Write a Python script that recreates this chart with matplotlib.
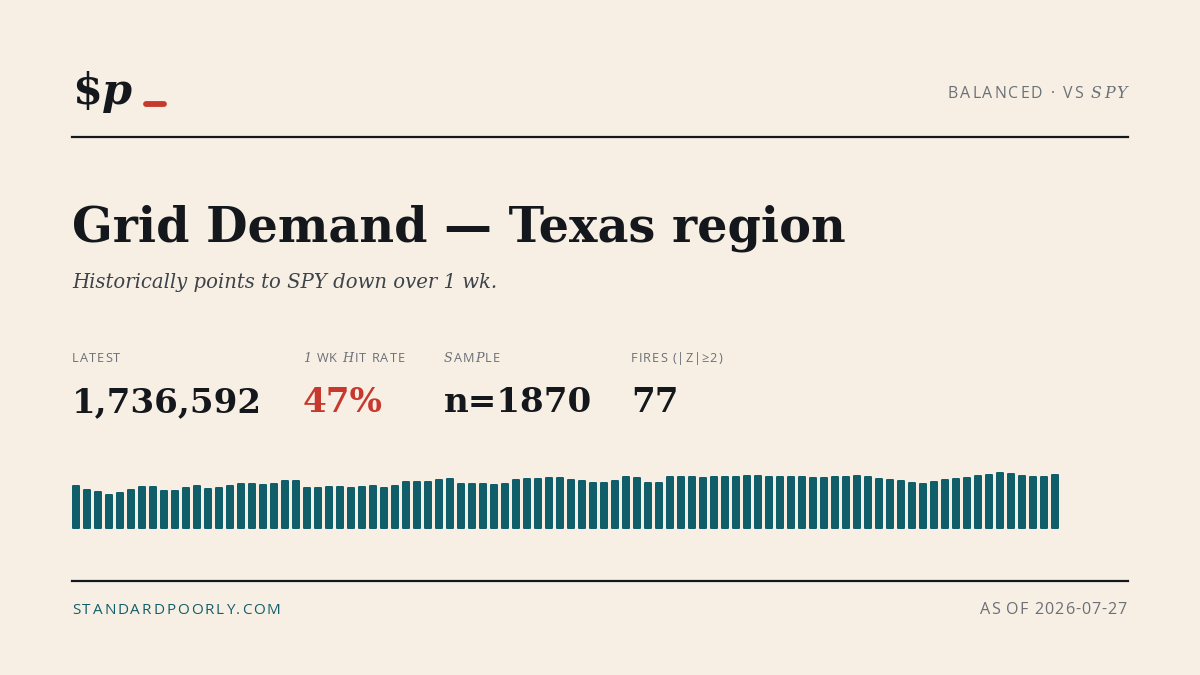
import matplotlib
matplotlib.use("Agg")
import matplotlib.pyplot as plt
from matplotlib import font_manager
from matplotlib.lines import Line2D

# --- data ---
bar_values = [42, 38, 36, 33, 35, 38, 41, 41, 37, 37, 40, 42, 39, 40, 42, 44, 44, 43, 44, 47,
              47, 40, 40, 41, 41, 40, 41, 42, 40, 42, 46, 46, 46, 48, 49, 44, 44, 44, 43, 44,
              48, 49, 49, 50, 50, 48, 47, 45, 45, 47, 51, 50, 45, 45, 51, 51, 51, 50, 51, 51,
              51, 52, 52, 51, 51, 51, 51, 50, 50, 51, 51, 52, 51, 49, 48, 47, 45, 44, 46, 48,
              49, 50, 52, 53, 55, 54, 52, 51, 51, 53]
title = "Grid Demand \u2014 Texas region"
subtitle = "Historically points to SPY down over 1 wk."
stat_labels = ["LATEST", "1 WK HIT RATE", "SAMPLE", "FIRES (|Z|\u22652)"]
stat_values = ["1,736,592", "47%", "n=1870", "77"]
footer_left = "STANDARDPOORLY.COM"
footer_right = "AS OF 2026-07-27"

BG = "#F7EFE3"
INK = "#14181D"
GRAY = "#6B7078"
RED = "#C7392E"
TEAL = "#115E6B"
SANS = "Open Sans"
installed = {f.name for f in font_manager.fontManager.ttflist}
SERIF = "DejaVu Serif Condensed" if "DejaVu Serif Condensed" in installed else "DejaVu Serif"

W, H = 1200, 675
fig = plt.figure(figsize=(W / 100, H / 100), dpi=100, facecolor=BG)
renderer = fig.canvas.get_renderer()


def fx(x):
    return x / W


def fy(y):
    return 1 - y / H


def fitted(txt, target, **kw):
    # font size that makes txt span target pixels
    t = fig.text(0, 0, txt, fontsize=20, **kw)
    w = t.get_window_extent(renderer).width
    t.remove()
    return 20 * target / w


def put_runs(x, y, parts, ha="left", spacing=0.0):
    # parts: list of (text, style dict); drawn char by char when spaced
    pieces = []
    for txt, kw in parts:
        chunks = list(txt) if spacing else [txt]
        for ch in chunks:
            t = fig.text(0, 0, ch, va="baseline", ha="left", **kw)
            w = t.get_window_extent(renderer).width
            if ch == " ":
                w = kw.get("fontsize", 10) * 100 / 72 * 0.26
            pieces.append((t, w))
    total = sum(w for _, w in pieces) + spacing * (len(pieces) - 1)
    cx = x - total if ha == "right" else x
    for t, w in pieces:
        t.set_position((fx(cx), fy(y)))
        cx += w + spacing


# header
logo_kw = dict(fontweight="bold", family=SERIF, color=INK)
put_runs(72, 104, [("$", dict(fontsize=31, **logo_kw)),
                   ("p", dict(fontsize=31, style="italic", **logo_kw))])
fig.add_artist(Line2D([fx(146), fx(164)], [fy(104), fy(104)], color=RED, lw=4.2,
                      solid_capstyle="round", transform=fig.transFigure))

sans_small = dict(fontsize=11.4, family=SANS, color=GRAY)
put_runs(1127, 98, [("BALANCED \u00b7 VS ", sans_small),
                    ("SPY", dict(fontsize=11.4, family=SERIF, style="italic", color=GRAY))],
         ha="right", spacing=2.0)

for yy in (137, 581):
    fig.add_artist(Line2D([fx(72), fx(1128)], [fy(yy), fy(yy)], color=INK, lw=1.6,
                          transform=fig.transFigure))

# title block
title_kw = dict(fontweight="bold", family=SERIF, color=INK)
fig.text(fx(72), fy(241), title, fontsize=fitted(title, 773, **title_kw),
         va="baseline", **title_kw)
sub_kw = dict(style="italic", family=SERIF, color="#3D434B")
fig.text(fx(72), fy(288), subtitle, fontsize=fitted(subtitle, 426, **sub_kw),
         va="baseline", **sub_kw)

# stats
stat_x = [72, 303, 444, 631]
lab = dict(fontsize=9.2, family=SANS, color=GRAY)
lab_it = dict(fontsize=9.2, family=SERIF, style="italic", color=GRAY)
label_parts = [
    [(stat_labels[0], lab)],
    [("1", lab_it), (" WK ", lab), ("H", lab_it), ("IT RATE", lab)],
    [("S", lab_it), ("AM", lab), ("P", lab_it), ("LE", lab)],
    [(stat_labels[3], lab)],
]
num_kw = dict(fontweight="bold", family=SERIF)
num_size = fitted(stat_values[0], 190, **num_kw)
for i, x in enumerate(stat_x):
    put_runs(x, 362, label_parts[i], spacing=1.0)
    fig.text(fx(x), fy(412), stat_values[i], fontsize=num_size, va="baseline",
             color=RED if i == 1 else INK, **num_kw)

# sparkline bars
n = len(bar_values)
ax = fig.add_axes([fx(72), fy(528), (1059 - 72) / W, 60 / H])
ax.set_facecolor("none")
bw = 8 / 11
xs = list(range(n))
ax.bar(xs, bar_values, width=bw - 2 / 11, color=TEAL, edgecolor=TEAL, linewidth=1.44,
       joinstyle="round", clip_on=False)
ax.set_xlim(-bw / 2, n - 1 + bw / 2)
ax.set_ylim(0, 60)
ax.axis("off")

# footer
put_runs(72, 614, [(footer_left, dict(fontsize=11, family=SANS, color=TEAL))], spacing=1.9)
put_runs(1127, 614, [(footer_right, dict(fontsize=11.6, family=SANS, color=GRAY))],
         ha="right", spacing=1.0)

fig.savefig("out.png", dpi=100, facecolor=BG)
